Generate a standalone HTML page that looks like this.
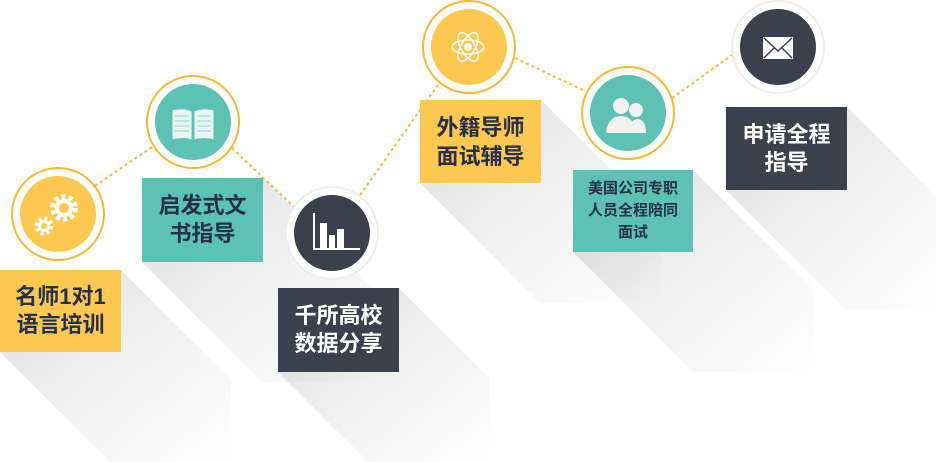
<!DOCTYPE html>
<html style="overflow:hidden"><head><meta charset="utf-8"><style>
html,body{margin:0;padding:0}
body{background:#fff;width:936px;height:462px;overflow:hidden;position:relative;font-family:"Liberation Sans","Noto Sans CJK SC",sans-serif}
.b{position:absolute;display:flex;align-items:center;justify-content:center;text-align:center;font-weight:bold;box-sizing:border-box}
.y{background:#fdc850;color:#26304a}.t{background:#5dc1b3;color:#26304a}.d{background:#3a414c;color:#fff}
svg{position:absolute;left:0;top:0;display:block}
</style></head><body>
<svg width="936" height="462">
<defs>
<linearGradient id="sh" x1="0" y1="0" x2="1" y2="1">
<stop offset="0" stop-color="#000" stop-opacity="0.13"/><stop offset="0.55" stop-color="#000" stop-opacity="0.05"/><stop offset="1" stop-color="#000" stop-opacity="0"/></linearGradient>
</defs>
<g fill="url(#sh)">
<polygon points="121,270 121,352 0,352 110,462 231,462 231,380"/>
<polygon points="263,178 263,262 142,262 262,382 383,382 383,298"/>
<polygon points="399,288 399,372 278,372 368,462 489,462 489,378"/>
<polygon points="541,100 541,183 420,183 540,303 661,303 661,220"/>
<polygon points="693,170 693,252 573,252 693,372 813,372 813,290"/>
<polygon points="847,107 847,190 726,190 846,310 936,310 936,196"/>
</g>
<g stroke="#f9b93a" stroke-width="2" stroke-dasharray="3,3" fill="none">
<line x1="95" y1="186" x2="155" y2="145"/>
<line x1="232" y1="148" x2="295" y2="208"/>
<line x1="360" y1="195" x2="440" y2="82"/>
<line x1="515" y1="58" x2="585" y2="91"/>
<line x1="672" y1="98" x2="732" y2="55"/>
</g>
<g>
<circle cx="58" cy="214" r="46" fill="#fff" stroke="#fbb731" stroke-width="2"/><circle cx="58" cy="214" r="38" fill="#fdc850"/>
<circle cx="193" cy="122" r="46" fill="#fff" stroke="#fbb731" stroke-width="2"/><circle cx="193" cy="122" r="38" fill="#5dc1b3"/>
<circle cx="332" cy="233" r="46" fill="#fff" stroke="#eee" stroke-width="2"/><circle cx="332" cy="233" r="38" fill="#3a414c"/>
<circle cx="469" cy="47" r="46" fill="#fff" stroke="#fbb731" stroke-width="2"/><circle cx="469" cy="47" r="38" fill="#fdc850"/>
<circle cx="628" cy="113" r="46" fill="#fff" stroke="#fbb731" stroke-width="2"/><circle cx="628" cy="113" r="38" fill="#5dc1b3"/>
<circle cx="778" cy="47" r="46" fill="#fff" stroke="#eee" stroke-width="2"/><circle cx="778" cy="47" r="38" fill="#3a414c"/>
</g>
<!-- gears -->
<g fill="none" stroke="#fff">
<circle cx="64" cy="208" r="11" stroke-width="6" stroke-dasharray="4,3"/><circle cx="64" cy="208" r="7" stroke-width="4"/>
<circle cx="44" cy="226" r="7" stroke-width="5" stroke-dasharray="3,2.5"/><circle cx="44" cy="226" r="4.5" stroke-width="3"/>
</g>
<!-- book -->
<g fill="#e8f5f2" stroke="#5dc1b3" stroke-width="1">
<path d="M172,110 Q182,107 192,111 L192,140 Q182,137 172,140Z"/><path d="M194,111 Q204,107 214,110 L214,140 Q204,137 194,140Z"/>
</g>
<g stroke="#8dd3c8" stroke-width="1">
<line x1="175" y1="116" x2="189" y2="116"/><line x1="175" y1="121" x2="189" y2="121"/><line x1="175" y1="126" x2="189" y2="126"/><line x1="175" y1="131" x2="189" y2="131"/>
<line x1="197" y1="116" x2="211" y2="116"/><line x1="197" y1="121" x2="211" y2="121"/><line x1="197" y1="126" x2="211" y2="126"/><line x1="197" y1="131" x2="211" y2="131"/>
</g>
<!-- chart -->
<g fill="#fff"><rect x="313" y="213" width="2" height="37"/><rect x="313" y="248" width="47" height="2"/>
<rect x="320" y="223" width="7" height="25"/><rect x="329" y="235" width="6" height="13"/><rect x="337" y="229" width="7" height="19"/></g>
<!-- atom -->
<g fill="none" stroke="#fff" stroke-width="1.5">
<ellipse cx="468" cy="47" rx="16" ry="7"/><ellipse cx="468" cy="47" rx="16" ry="7" transform="rotate(60 468 47)"/><ellipse cx="468" cy="47" rx="16" ry="7" transform="rotate(-60 468 47)"/></g>
<circle cx="468" cy="47" r="4" fill="#fff"/>
<!-- people -->
<g fill="#f2f2f2"><circle cx="621" cy="106" r="8"/><circle cx="636" cy="110" r="7"/>
<path d="M606,133 Q608,116 621,116 Q634,116 636,133Z"/><path d="M628,133 Q630,119 638,119 Q646,120 646,133Z"/></g>
<!-- mail -->
<rect x="763" y="37" width="30" height="22" fill="#fff"/>
<path d="M764,38 L778,51 L792,38 M764,58 L774,48 M792,58 L782,48" stroke="#3a414c" stroke-width="1.5" fill="none"/>
</svg>
<div class="b y" style="left:0;top:270px;width:121px;height:82px;font-size:22px;line-height:28px">名师1对1<br>语言培训</div>
<div class="b t" style="left:142px;top:178px;width:121px;height:84px;font-size:22px;line-height:28px">启发式文<br>书指导</div>
<div class="b d" style="left:278px;top:288px;width:121px;height:84px;font-size:22px;line-height:28px">千所高校<br>数据分享</div>
<div class="b y" style="left:420px;top:100px;width:121px;height:83px;font-size:22px;line-height:29px">外籍导师<br>面试辅导</div>
<div class="b t" style="left:573px;top:170px;width:120px;height:82px;font-size:15px;line-height:22px">美国公司专职<br>人员全程陪同<br>面试</div>
<div class="b d" style="left:726px;top:107px;width:121px;height:83px;font-size:22px;line-height:28px">申请全程<br>指导</div>
</body></html>
